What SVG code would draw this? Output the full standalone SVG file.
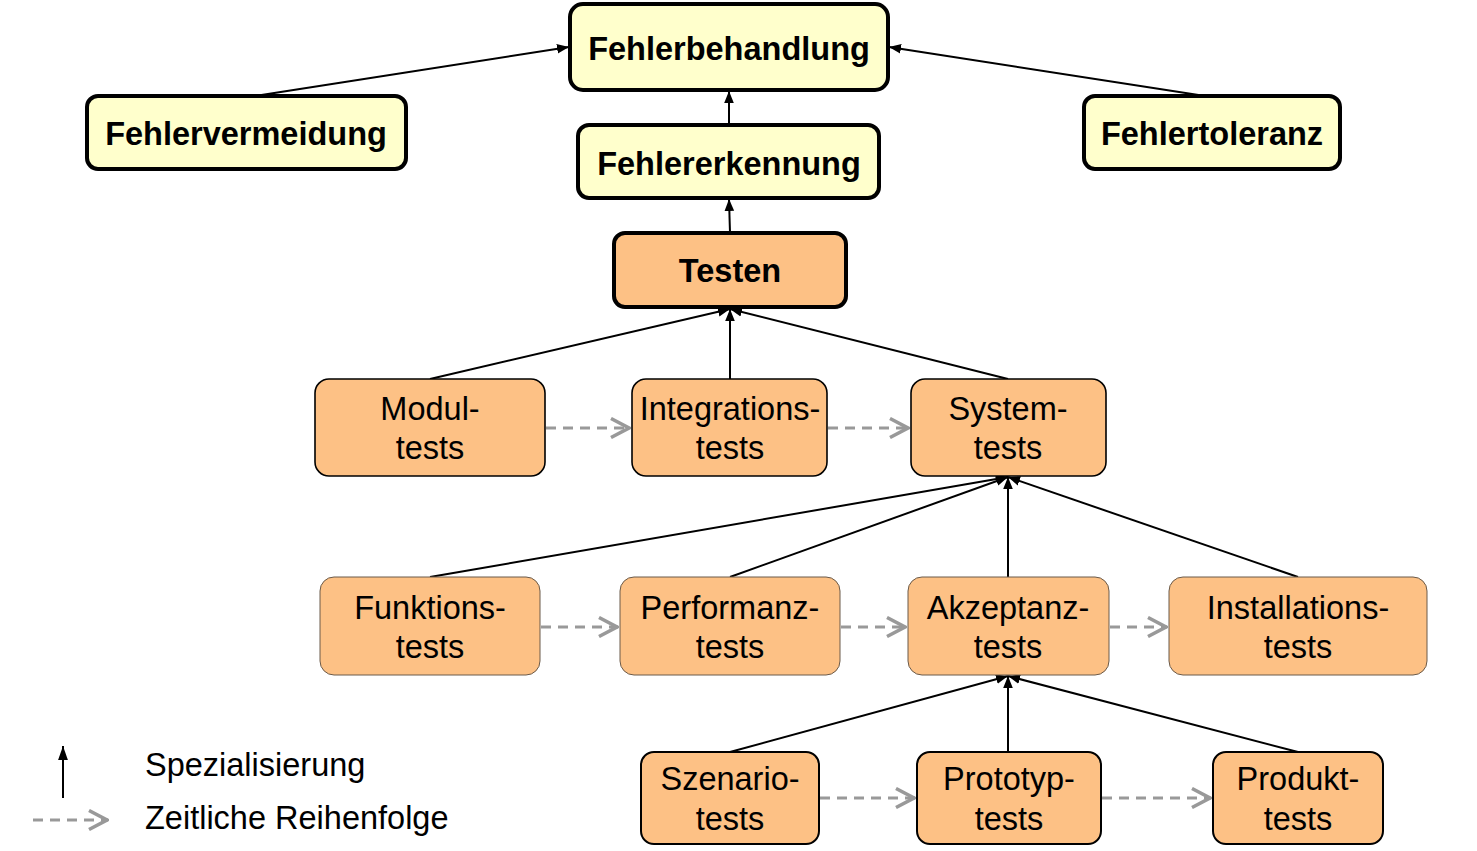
<svg xmlns="http://www.w3.org/2000/svg" width="1477" height="851" viewBox="0 0 1477 851">
<style>
.y{fill:#ffffcc;stroke:#000;stroke-width:4}
.o{fill:#fdc185;stroke:#000;stroke-width:4}
.m{fill:#fdc185;stroke:#000;stroke-width:1.6}
.t{fill:#fdc185;stroke:#6a5a4a;stroke-width:1}
.b{fill:#fdc185;stroke:#000;stroke-width:2}
.bt{font-family:"Liberation Sans",Arial,sans-serif;font-weight:bold;font-size:32.5px;text-anchor:middle;fill:#000}
.nt{font-family:"Liberation Sans",Arial,sans-serif;font-size:32.5px;text-anchor:middle;fill:#000}
.lt{font-family:"Liberation Sans",Arial,sans-serif;font-size:32.5px;fill:#000}
.s{stroke:#000;stroke-width:2;fill:none;marker-end:url(#ah)}
.d{stroke:#999;stroke-width:3;stroke-dasharray:10,7;fill:none;marker-end:url(#oa)}
</style>
<defs>
<marker id="ah" viewBox="0 0 10 10" refX="10" refY="5" markerWidth="12" markerHeight="12" markerUnits="userSpaceOnUse" orient="auto"><path d="M0,1 L10,5 L0,9 z" fill="#000"/></marker>
<marker id="ah3" viewBox="0 0 10 10" refX="10" refY="5" markerWidth="14" markerHeight="14" markerUnits="userSpaceOnUse" orient="auto"><path d="M0,1.5 L10,5 L0,8.5 z" fill="#000"/></marker>
<marker id="oa" viewBox="0 0 22 22" refX="21" refY="11" markerWidth="22" markerHeight="22" markerUnits="userSpaceOnUse" orient="auto"><path d="M2,1.5 L20,11 L2,20.5" fill="none" stroke="#999" stroke-width="3.5"/></marker>
</defs>
<g id="connectors">
<line class="s" x1="255" y1="96" x2="569" y2="47"/>
<line class="s" x1="1205" y1="96" x2="889" y2="47"/>
<line class="s" x1="729" y1="125" x2="729" y2="91"/>
<line class="s" x1="730" y1="233" x2="729" y2="199"/>
<line class="s" x1="430" y1="379" x2="730" y2="309"/>
<line class="s" x1="730" y1="379" x2="730" y2="309"/>
<line class="s" x1="1008" y1="379" x2="730" y2="309"/>
<line class="s" x1="430" y1="577" x2="1008" y2="477"/>
<line class="s" x1="730" y1="577" x2="1008" y2="477"/>
<line class="s" x1="1008" y1="577" x2="1008" y2="477"/>
<line class="s" x1="1298" y1="577" x2="1008" y2="477"/>
<line class="s" x1="730" y1="752" x2="1008" y2="676"/>
<line class="s" x1="1008" y1="752" x2="1008" y2="676"/>
<line class="s" x1="1298" y1="752" x2="1008" y2="676"/>
<line class="d" x1="546" y1="428" x2="630" y2="428"/>
<line class="d" x1="828" y1="428" x2="909" y2="428"/>
<line class="d" x1="541" y1="627" x2="618" y2="627"/>
<line class="d" x1="841" y1="627" x2="906" y2="627"/>
<line class="d" x1="1110" y1="627" x2="1167" y2="627"/>
<line class="d" x1="820" y1="798" x2="915" y2="798"/>
<line class="d" x1="1102" y1="798" x2="1211" y2="798"/>
</g>
<g id="n-fehlerbehandlung"><rect class="y" x="570" y="4" width="318" height="86" rx="13"/><text class="bt" x="729" y="60">Fehlerbehandlung</text></g>
<g id="n-fehlervermeidung"><rect class="y" x="87" y="96" width="319" height="73" rx="11"/><text class="bt" x="246" y="145">Fehlervermeidung</text></g>
<g id="n-fehlererkennung"><rect class="y" x="578" y="125" width="301" height="73" rx="11"/><text class="bt" x="729" y="175">Fehlererkennung</text></g>
<g id="n-fehlertoleranz"><rect class="y" x="1084" y="96" width="256" height="73" rx="11"/><text class="bt" x="1212" y="145">Fehlertoleranz</text></g>
<g id="n-testen"><rect class="o" x="614" y="233" width="232" height="74" rx="11"/><text class="bt" x="730" y="282">Testen</text></g>
<g id="n-modul"><rect class="m" x="315" y="379" width="230" height="97" rx="14"/><text class="nt" x="430" y="420">Modul-</text><text class="nt" x="430" y="459">tests</text></g>
<g id="n-integrations"><rect class="m" x="632" y="379" width="195" height="97" rx="14"/><text class="nt" x="730" y="420">Integrations-</text><text class="nt" x="730" y="459">tests</text></g>
<g id="n-system"><rect class="m" x="911" y="379" width="195" height="97" rx="14"/><text class="nt" x="1008" y="420">System-</text><text class="nt" x="1008" y="459">tests</text></g>
<g id="n-funktions"><rect class="t" x="320" y="577" width="220" height="98" rx="14"/><text class="nt" x="430" y="619">Funktions-</text><text class="nt" x="430" y="658">tests</text></g>
<g id="n-performanz"><rect class="t" x="620" y="577" width="220" height="98" rx="14"/><text class="nt" x="730" y="619">Performanz-</text><text class="nt" x="730" y="658">tests</text></g>
<g id="n-akzeptanz"><rect class="t" x="908" y="577" width="201" height="98" rx="14"/><text class="nt" x="1008" y="619">Akzeptanz-</text><text class="nt" x="1008" y="658">tests</text></g>
<g id="n-installations"><rect class="t" x="1169" y="577" width="258" height="98" rx="14"/><text class="nt" x="1298" y="619">Installations-</text><text class="nt" x="1298" y="658">tests</text></g>
<g id="n-szenario"><rect class="b" x="641" y="752" width="178" height="92" rx="13"/><text class="nt" x="730" y="790">Szenario-</text><text class="nt" x="730" y="830">tests</text></g>
<g id="n-prototyp"><rect class="b" x="917" y="752" width="184" height="92" rx="13"/><text class="nt" x="1009" y="790">Prototyp-</text><text class="nt" x="1009" y="830">tests</text></g>
<g id="n-produkt"><rect class="b" x="1213" y="752" width="170" height="92" rx="13"/><text class="nt" x="1298" y="790">Produkt-</text><text class="nt" x="1298" y="830">tests</text></g>
<g id="legend">
<line class="s" x1="63" y1="798" x2="63" y2="746" style="marker-end:url(#ah3)"/>
<line class="d" x1="33" y1="820" x2="108" y2="820"/>
<text class="lt" x="145" y="776">Spezialisierung</text>
<text class="lt" x="145" y="829">Zeitliche Reihenfolge</text>
</g>
</svg>
